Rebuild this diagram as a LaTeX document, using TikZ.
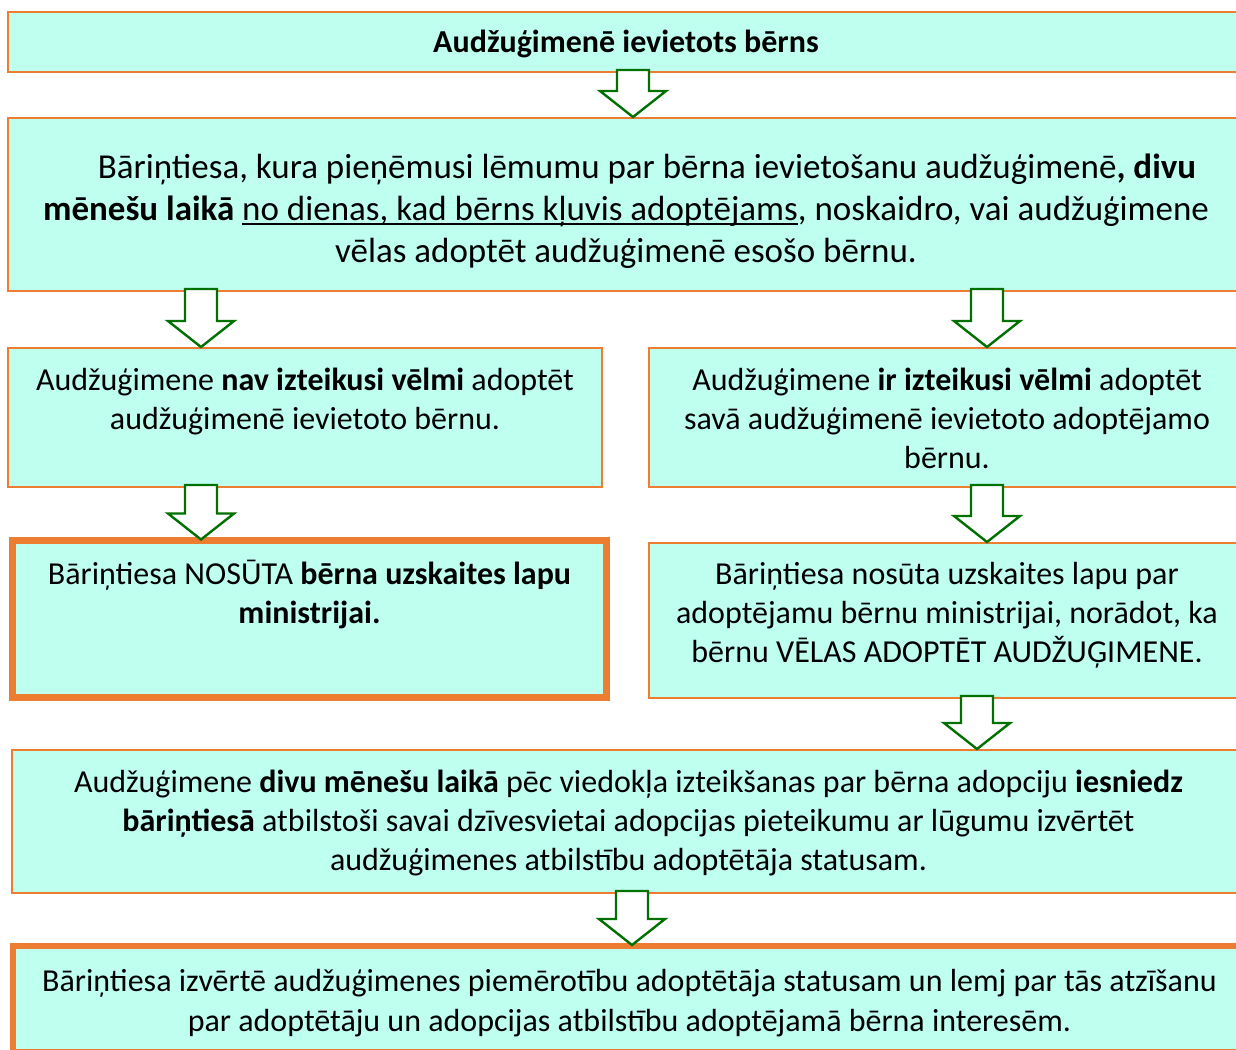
\documentclass[tikz,border=0pt]{standalone}
\usepackage{fontspec}
\setmainfont{Carlito}
\usetikzlibrary{calc}
\definecolor{boxfill}{RGB}{190,255,240}
\definecolor{boxline}{RGB}{237,125,49}
\definecolor{arrgreen}{RGB}{0,112,0}
\newsavebox\myulbox
\newcommand\myul[1]{\sbox\myulbox{#1}\rlap{\rule[-4.5pt]{\wd\myulbox}{1.5pt}}\usebox\myulbox}
\newcommand\fsn{\fontsize{32}{39}\selectfont}
\newcommand\blockarrow[3]{%
  \draw[barrow] let \p1=(#2.south), \p2=(#3.north) in
  (#1-16,\y1+2pt) -- (#1+16,\y1+2pt) -- (#1+16,\y2+27pt) -- (#1+33,\y2+27pt)
  -- (#1,\y2+1pt) -- (#1-33,\y2+27pt) -- (#1-16,\y2+27pt) -- cycle;}
\tikzset{
  box/.style={draw=boxline, fill=boxfill, line width=2pt, rectangle,
    inner sep=0pt, outer sep=0pt, anchor=north west},
  thickbox/.style={box, line width=7pt},
  txt/.style={align=center, inner sep=0pt, anchor=north, font=\fsn},
  barrow/.style={draw=arrgreen, fill=white, line width=2.4pt, line join=miter},
}
\begin{document}
\begin{tikzpicture}[x=1pt,y=-1pt]
\useasboundingbox (0,0) rectangle (1236,1049);
\clip (0,0) rectangle (1236,1049);
\fill[white] (0,0) rectangle (1236,1049);
% boxes
\node[box, minimum width=1236pt, minimum height=60pt] (b1) at (8,12) {};
\node[box, minimum width=1236pt, minimum height=173pt] (b2) at (8,118) {};
\node[box, minimum width=594pt, minimum height=139pt] (b3) at (8,348) {};
\node[box, minimum width=596pt, minimum height=139pt] (b4) at (649,348) {};
\node[thickbox, minimum width=594pt, minimum height=157pt] (b5) at (12.5,540.5) {};
\node[box, minimum width=596pt, minimum height=155pt] (b6) at (649,543) {};
\node[box, minimum width=1233pt, minimum height=143pt] (b7) at (12,750) {};
\node[box, line width=6pt, minimum width=1233pt, minimum height=106pt] (b8) at (13,946) {};
% texts
\node[txt, font=\fontsize{32}{39}\selectfont\bfseries] (t1) at ($(b1.north)+(0,12.7)$)
  {\strut Audžuģimenē ievietots bērns};
\node[txt, font=\fontsize{35}{42}\selectfont] (t2) at ($(b2.north)+(0,30.6)$)
  {\strut\hspace*{42pt}Bāriņtiesa, kura pieņēmusi lēmumu par bērna ievietošanu audžuģimenē\textbf{, divu}\\
   \textbf{mēnešu laikā} \myul{no dienas, kad bērns kļuvis adoptējams}, noskaidro, vai audžuģimene\\
   vēlas adoptēt audžuģimenē esošo bērnu.};
\node[txt] (t3) at ($(b3.north)+(0,14.7)$)
  {\strut Audžuģimene \textbf{nav izteikusi vēlmi} adoptēt\\ audžuģimenē ievietoto bērnu.};
\node[txt] (t4) at ($(b4.north)+(0,14.7)$)
  {\strut Audžuģimene \textbf{ir izteikusi vēlmi} adoptēt\\ savā audžuģimenē ievietoto adoptējamo\\ bērnu.};
\node[txt] (t5) at ($(b5.north)+(0,16.2)$)
  {\strut Bāriņtiesa NOSŪTA \textbf{bērna uzskaites lapu}\\ \textbf{ministrijai.}};
\node[txt] (t6) at ($(b6.north)+(0,13.7)$)
  {\strut Bāriņtiesa nosūta uzskaites lapu par\\ adoptējamu bērnu ministrijai, norādot, ka\\ bērnu VĒLAS ADOPTĒT AUDŽUĢIMENE.};
\node[txt] (t7) at ($(b7.north)+(0,14.7)$)
  {\strut Audžuģimene \textbf{divu mēnešu laikā} pēc viedokļa izteikšanas par bērna adopciju \textbf{iesniedz}\\
   \textbf{bāriņtiesā} atbilstoši savai dzīvesvietai adopcijas pieteikumu ar lūgumu izvērtēt\\
   audžuģimenes atbilstību adoptētāja statusam.};
\node[txt, font=\fontsize{32}{40}\selectfont] (t8) at ($(b8.north)+(0,17)$)
  {\strut Bāriņtiesa izvērtē audžuģimenes piemērotību adoptētāja statusam un lemj par tās atzīšanu\\
   par adoptētāju un adopcijas atbilstību adoptējamā bērna interesēm.};
% arrows
\blockarrow{633}{b1}{b2}
\blockarrow{201}{b2}{b3}
\blockarrow{987}{b2}{b4}
\blockarrow{201}{b3}{b5}
\blockarrow{987}{b4}{b6}
\blockarrow{977}{b6}{b7}
\blockarrow{632}{b7}{b8}
\end{tikzpicture}
\end{document}
